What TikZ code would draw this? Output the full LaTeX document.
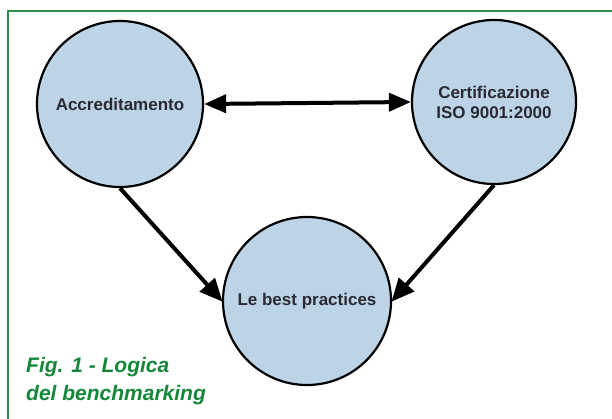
\documentclass[tikz,border=0pt]{standalone}
\usepackage{fontspec}
\setmainfont{Liberation Sans}
\usetikzlibrary{arrows.meta}
\definecolor{circfill}{HTML}{BDD4E7}
\definecolor{txtdark}{HTML}{2A2A33}
\definecolor{capgreen}{HTML}{14873A}
\definecolor{framegreen}{HTML}{2E8B4A}
\tikzset{
  topic/.style={circle, draw=black, line width=2.2pt, fill=circfill, inner sep=0pt,
    text=txtdark, align=center, font=\bfseries\fontsize{17}{20}\selectfont},
  link/.style={line width=4pt, -{Triangle[length=23pt,width=20pt]}, shorten >=-1pt},
  dlink/.style={line width=4pt, {Triangle[length=22pt,width=18pt]}-{Triangle[length=22pt,width=18pt]}},
  frameline/.style={draw=framegreen, line width=2pt},
  caption/.style={text=capgreen, align=left, inner sep=0pt,
    font=\bfseries\itshape\fontsize{21}{28}\selectfont}
}
\begin{document}
\begin{tikzpicture}[x=1pt,y=-1pt]
\useasboundingbox (0,0) rectangle (612,419);
\fill[white] (0,0) rectangle (612,419);
\coordinate (fbl) at (7.5,419);
\coordinate (ftl) at (7.5,11);
\coordinate (ftr) at (612,11);
\draw[frameline] (fbl) -- (ftl) -- (ftr);
\node[topic, minimum size=166pt] (acc) at (120,104) {Accreditamento};
\node[topic, minimum size=164pt] (cert) at (494,102) {Certificazione\\ISO 9001:2000};
\node[topic, minimum size=168pt] (best) at (307,301) {Le best practices};
\draw[dlink] (acc.east) -- (cert.west);
\draw[link] (acc.south) -- (best.west);
\draw[link] (cert.south) -- (best.east);
\node[caption, anchor=base west] (cap) at (26,400) {Fig. 1 - Logica\\del benchmarking};
\end{tikzpicture}
\end{document}
